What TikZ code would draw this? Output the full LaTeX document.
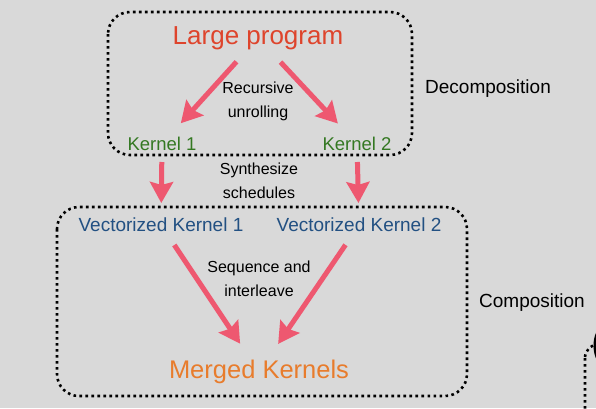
\documentclass[tikz,border=0pt]{standalone}
\usepackage{fontspec}
\setmainfont{Liberation Sans}
\usepackage{tikz}
\usetikzlibrary{arrows.meta,calc}
\definecolor{bggray}{RGB}{217,217,217}
\definecolor{progred}{RGB}{222,68,44}
\definecolor{kergreen}{RGB}{52,120,34}
\definecolor{vecblue}{RGB}{34,80,130}
\definecolor{mergeorange}{RGB}{232,124,44}
\definecolor{arrowpink}{RGB}{238,88,112}
\begin{document}
\begin{tikzpicture}
[x=1pt, y=-1pt, font=\fontsize{16}{24}\selectfont,
 flow/.style={draw=arrowpink, line width=5pt,
   -{Stealth[length=21pt,width=23pt,inset=3pt]}},
 dotbox/.style={draw, line width=2.6pt, dash pattern=on 2.6pt off 3.4pt,
   rounded corners=22pt},
 lbl/.style={align=center, inner sep=0pt}]
\useasboundingbox[fill=bggray] (0,0) rectangle (596,408);

\draw[dotbox] (108,12) rectangle (412,155);
\draw[dotbox] (57,207) rectangle (467,396);
\begin{scope}
\clip (0,0) rectangle (596,408);
\draw[dotbox, rounded corners=14pt] (585,344) rectangle (660,460);
\draw[line width=3pt] (600,362) arc[start angle=120, end angle=240, x radius=10, y radius=19];
\end{scope}

\node (lp) at (258,38)[text=progred, font=\fontsize{26}{30}\selectfont] {Large program};
\node (k1) at (162,144)[text=kergreen, font=\fontsize{18.5}{22}\selectfont] {Kernel 1};
\node (k2) at (357,144)[text=kergreen, font=\fontsize{18.5}{22}\selectfont] {Kernel 2};
\node (vk1) at (161,225)[text=vecblue, font=\fontsize{19}{22}\selectfont] {Vectorized Kernel 1};
\node (vk2) at (359,225)[text=vecblue, font=\fontsize{19}{22}\selectfont] {Vectorized Kernel 2};
\node (mk) at (259,372)[text=mergeorange, font=\fontsize{25.5}{30}\selectfont] {Merged Kernels};

\node (ru) at (258,101)[lbl] {Recursive\\unrolling};
\node (ss) at (259,181)[lbl] {Synthesize\\schedules};
\node (si) at (259,279)[lbl] {Sequence and\\interleave};
\node (dec) at (488,89)[font=\fontsize{19}{22}\selectfont] {Decomposition};
\node (com) at (532,303)[font=\fontsize{19}{22}\selectfont] {Composition};

\draw[flow, shorten <=32pt, shorten >=28pt] (lp.center) -- (k1.center);
\draw[flow, shorten <=33pt, shorten >=28pt] (lp.center) -- (k2.center);
\draw[flow, shorten <=18pt, shorten >=22pt] (k1.center) -- (vk1.center);
\draw[flow, shorten <=18pt, shorten >=22pt] (k2.center) -- (vk2.center);
\draw[flow, shorten <=24pt, shorten >=34pt] (vk1.center) -- (mk.center);
\draw[flow, shorten <=24pt, shorten >=34pt] (vk2.center) -- (mk.center);
\end{tikzpicture}
\end{document}
